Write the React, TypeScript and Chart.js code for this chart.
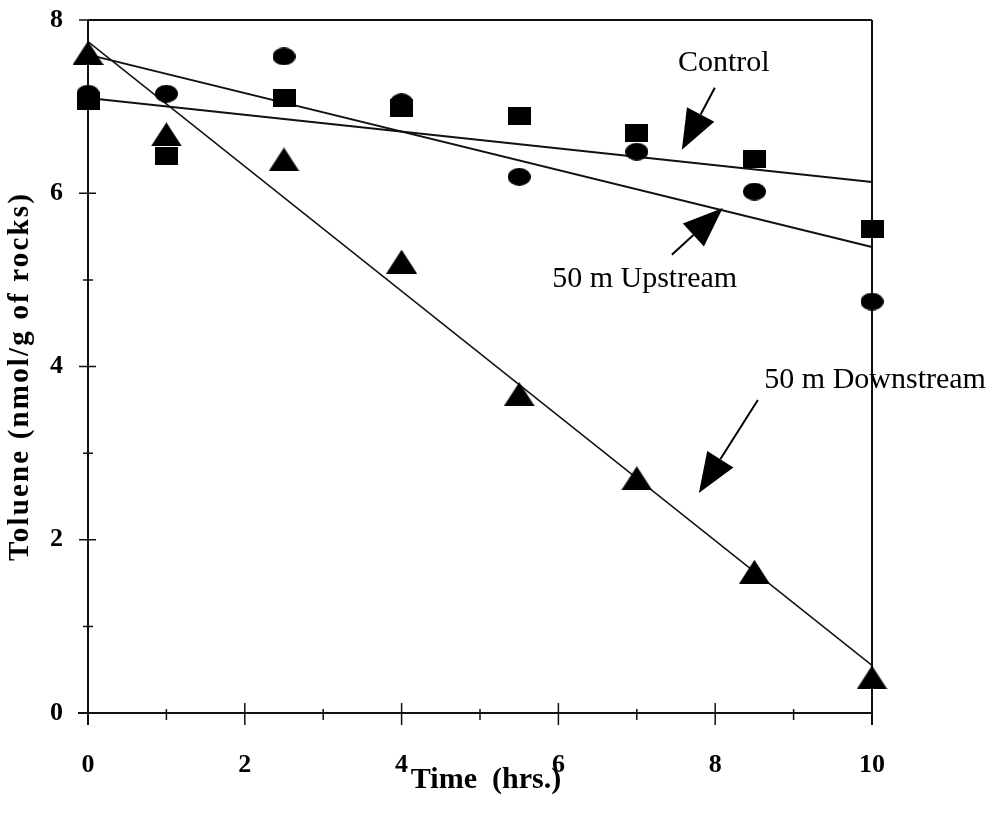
import React, { useEffect, useRef } from "react";
import { Chart, registerables } from "chart.js";

Chart.register(...registerables);

// ---- data ----
const timeHours = [0, 1, 2.5, 4, 5.5, 7, 8.5, 10];
const controlValues = [7.06, 6.43, 7.1, 6.98, 6.89, 6.69, 6.39, 5.59];
const upstreamValues = [7.15, 7.15, 7.58, 7.05, 6.19, 6.48, 6.02, 4.75];
const downstreamValues = [7.62, 6.68, 6.39, 5.21, 3.68, 2.71, 1.63, 0.41];

const fitTimes = [0, 10];
const controlFit = [7.1, 6.13];
const upstreamFit = [7.6, 5.38];
const downstreamFit = [7.75, 0.55];

const xMajorTicks = [0, 2, 4, 6, 8, 10];
const xMinorTicks = [1, 3, 5, 7, 9];
const yMajorTicks = [0, 2, 4, 6, 8];
const yMinorTicks = [1, 3, 5, 7];

const xTitle = "Time  (hrs.)";
const yTitle = "Toluene (nmol/g of rocks)";

const labelNames = ["Control", "50 m Upstream", "50 m Downstream"];
// [time, value] of each label's baseline centre
const labelAnchors = [
  [8.11, 7.41],
  [7.1, 4.92],
  [10.04, 3.75],
];
const arrowTails = [
  [7.995, 7.217],
  [7.447, 5.289],
  [8.544, 3.614],
];
const arrowTips = [
  [7.575, 6.501],
  [8.097, 5.831],
  [7.792, 2.54],
];

const SERIF = "'Liberation Serif', 'Times New Roman', serif";

function makeMarker(kind: string, w: number, h: number) {
  const c = document.createElement("canvas");
  c.width = w;
  c.height = h;
  const g = c.getContext("2d")!;
  g.fillStyle = "#000";
  g.beginPath();
  if (kind === "tri") {
    g.moveTo(w / 2, 0);
    g.lineTo(w, h);
    g.lineTo(0, h);
    g.closePath();
  } else if (kind === "rect") {
    g.rect(0, 0, w, h);
  } else {
    g.ellipse(w / 2, h / 2, w / 2, h / 2, 0, 0, Math.PI * 2);
  }
  g.fill();
  return c;
}

const framePlugin = {
  id: "frame",
  beforeDatasetsDraw(chart: any) {
    const { ctx, chartArea: a, scales } = chart;
    const xs = scales.x;
    const ys = scales.y;
    ctx.save();
    ctx.strokeStyle = "#111";
    ctx.lineWidth = 2;
    ctx.beginPath();
    ctx.moveTo(a.left, a.top);
    ctx.lineTo(a.left, a.bottom + 12);
    ctx.moveTo(a.left - 10, a.bottom);
    ctx.lineTo(a.right, a.bottom);
    ctx.moveTo(a.left, a.top);
    ctx.lineTo(a.right, a.top);
    ctx.moveTo(a.right, a.top);
    ctx.lineTo(a.right, a.bottom + 12);
    ctx.stroke();
    ctx.lineWidth = 1.5;
    ctx.beginPath();
    for (const t of xMajorTicks) {
      const p = xs.getPixelForValue(t);
      ctx.moveTo(p, a.bottom - 10);
      ctx.lineTo(p, a.bottom + 12);
    }
    for (const t of xMinorTicks) {
      const p = xs.getPixelForValue(t);
      ctx.moveTo(p, a.bottom - 4);
      ctx.lineTo(p, a.bottom + 7);
    }
    for (const v of yMajorTicks) {
      const p = ys.getPixelForValue(v);
      ctx.moveTo(a.left - 9, p);
      ctx.lineTo(a.left + 8, p);
    }
    for (const v of yMinorTicks) {
      const p = ys.getPixelForValue(v);
      ctx.moveTo(a.left - 5, p);
      ctx.lineTo(a.left + 5, p);
    }
    ctx.stroke();
    ctx.restore();
  },
  afterDatasetsDraw(chart: any) {
    const { ctx, chartArea: a, scales } = chart;
    const xs = scales.x;
    const ys = scales.y;
    ctx.save();
    ctx.fillStyle = "#000";
    ctx.strokeStyle = "#000";
    ctx.font = `30px ${SERIF}`;
    ctx.textAlign = "center";
    ctx.textBaseline = "alphabetic";
    labelNames.forEach((name, i) => {
      const [t, v] = labelAnchors[i];
      ctx.fillText(name, xs.getPixelForValue(t), ys.getPixelForValue(v));
    });
    arrowTails.forEach((tail, i) => {
      const tip = arrowTips[i];
      const x0 = xs.getPixelForValue(tail[0]);
      const y0 = ys.getPixelForValue(tail[1]);
      const x1 = xs.getPixelForValue(tip[0]);
      const y1 = ys.getPixelForValue(tip[1]);
      const dx = x1 - x0;
      const dy = y1 - y0;
      const len = Math.hypot(dx, dy);
      const ux = dx / len;
      const uy = dy / len;
      const headLen = 40;
      const halfW = 15.5;
      const bx = x1 - ux * headLen;
      const by = y1 - uy * headLen;
      ctx.lineWidth = 2;
      ctx.beginPath();
      ctx.moveTo(x0, y0);
      ctx.lineTo(bx, by);
      ctx.stroke();
      ctx.beginPath();
      ctx.moveTo(x1, y1);
      ctx.lineTo(bx - uy * halfW, by + ux * halfW);
      ctx.lineTo(bx + uy * halfW, by - ux * halfW);
      ctx.closePath();
      ctx.fill();
    });
    ctx.font = `bold 30px ${SERIF}`;
    ctx.textAlign = "center";
    ctx.textBaseline = "alphabetic";
    ctx.fillText(xTitle, (a.left + a.right) / 2 + 6, 788);
    ctx.save();
    ctx.translate(28, (a.top + a.bottom) / 2 + 10);
    ctx.rotate(-Math.PI / 2);
    ctx.font = `bold 29px ${SERIF}`;
    const w = ctx.measureText(yTitle).width;
    const target = 367;
    if (w < target && "letterSpacing" in ctx) {
      (ctx as any).letterSpacing = `${(target - w) / (yTitle.length - 1)}px`;
    }
    ctx.fillText(yTitle, 0, 0);
    ctx.restore();
    ctx.restore();
  },
};

export default function App() {
  const ref = useRef<HTMLCanvasElement>(null);
  useEffect(() => {
    const canvas = ref.current!;
    const tri = makeMarker("tri", 31, 24);
    const sq = makeMarker("rect", 23, 18);
    const ell = makeMarker("ellipse", 23, 18);
    const pts = (vals: number[]) => timeHours.map((t, i) => ({ x: t, y: vals[i] }));
    const fit = (vals: number[]) => fitTimes.map((t, i) => ({ x: t, y: vals[i] }));
    const lineDs = (label: string, vals: number[], width: number) => ({
      label,
      data: fit(vals),
      showLine: true,
      borderColor: "#111",
      borderWidth: width,
      pointRadius: 0,
      fill: false,
      clip: false,
      order: 2,
    });
    const markDs = (label: string, vals: number[], style: any) => ({
      label,
      data: pts(vals),
      showLine: false,
      pointStyle: style,
      pointRadius: 12,
      backgroundColor: "#000",
      borderColor: "#000",
      clip: false,
      order: 1,
    });
    const chart = new Chart(canvas, {
      type: "scatter",
      data: {
        datasets: [
          lineDs("Control fit", controlFit, 2),
          lineDs("Upstream fit", upstreamFit, 2),
          lineDs("Downstream fit", downstreamFit, 1.5),
          markDs("Control", controlValues, sq),
          markDs("50 m Upstream", upstreamValues, ell),
          markDs("50 m Downstream", downstreamValues, tri),
        ] as any,
      },
      options: {
        animation: false,
        responsive: false,
        devicePixelRatio: 1,
        layout: { padding: { top: 20, right: 122, left: 0, bottom: 0 } },
        plugins: {
          legend: { display: false },
          tooltip: { enabled: false },
        },
        scales: {
          x: {
            type: "linear",
            min: 0,
            max: 10,
            grid: { display: false, drawTicks: false, tickLength: 0 },
            border: { display: false },
            ticks: {
              stepSize: 2,
              padding: 37,
              color: "#000",
              font: { family: SERIF, size: 26, weight: "bold" },
            },
            afterFit: (s: any) => {
              s.height = 103;
              s.paddingLeft = 0;
              s.paddingRight = 0;
            },
          },
          y: {
            type: "linear",
            min: 0,
            max: 8,
            grid: { display: false, drawTicks: false, tickLength: 0 },
            border: { display: false },
            ticks: {
              stepSize: 2,
              padding: 25,
              color: "#000",
              font: { family: SERIF, size: 26, weight: "bold" },
            },
            afterFit: (s: any) => {
              s.width = 88;
              s.paddingTop = 0;
              s.paddingBottom = 0;
            },
          },
        },
      } as any,
      plugins: [framePlugin],
    });
    return () => chart.destroy();
  }, []);
  return (
    <div style={{ position: "absolute", left: 0, top: 0, width: 994, height: 816, background: "#fff" }}>
      <canvas ref={ref} width={994} height={816} style={{ display: "block" }} />
    </div>
  );
}
